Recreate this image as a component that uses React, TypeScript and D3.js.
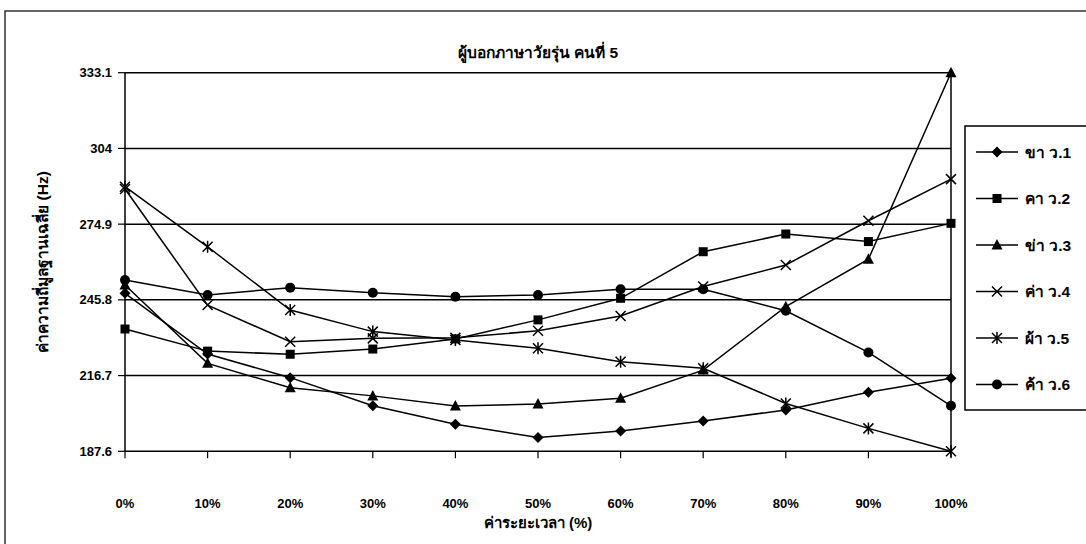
import React from "react";
import * as d3 from "d3";

const categories = ["0%", "10%", "20%", "30%", "40%", "50%", "60%", "70%", "80%", "90%", "100%"];
const yTicks = [187.6, 216.7, 245.8, 274.9, 304, 333.1];

const seriesNames = ["ขา ว.1", "คา ว.2", "ข่า ว.3", "ค่า ว.4", "ผ้า ว.5", "ค้า ว.6"];
const markerKinds = ["diamond", "square", "triangle", "cross", "star", "circle"];

const khaa1 = [248.3, 225.0, 215.9, 205.1, 198.0, 192.9, 195.4, 199.2, 203.5, 210.3, 215.7];
const khaa2 = [234.6, 226.1, 224.9, 226.9, 230.8, 238.1, 246.4, 264.3, 271.1, 268.2, 275.2];
const khaa3 = [251.5, 221.4, 212.0, 208.9, 205.0, 205.8, 208.0, 218.8, 243.2, 261.4, 333.1];
const khaa4 = [288.4, 243.8, 229.7, 231.0, 231.2, 233.9, 239.6, 250.9, 259.2, 276.2, 292.2];
const phaa5 = [289.3, 266.2, 241.9, 233.6, 230.4, 227.2, 222.0, 219.5, 206.0, 196.4, 187.6];
const khaa6 = [253.4, 247.7, 250.5, 248.5, 247.0, 247.7, 249.9, 249.9, 241.6, 225.6, 205.1];

const seriesValues = [khaa1, khaa2, khaa3, khaa4, phaa5, khaa6];

const W = 1086;
const H = 544;
const plot = { left: 125, right: 951, top: 72.7, bottom: 451.3 };
const FONT = "'Liberation Sans', Arial, 'Noto Sans', sans-serif";

const x = d3
  .scalePoint<string>()
  .domain(categories)
  .range([plot.left, plot.right]);
const y = d3.scaleLinear().domain([187.6, 333.1]).range([plot.bottom, plot.top]);

function Marker({ kind, cx, cy }: { kind: string; cx: number; cy: number }) {
  const s = 5;
  switch (kind) {
    case "diamond":
      return (
        <path
          d={`M${cx},${cy - 5.5}L${cx + 5.5},${cy}L${cx},${cy + 5.5}L${cx - 5.5},${cy}Z`}
          fill="#000"
        />
      );
    case "square":
      return <rect x={cx - 4.5} y={cy - 4.5} width={9} height={9} fill="#000" />;
    case "triangle":
      return (
        <path
          d={`M${cx},${cy - 6}L${cx + 5.5},${cy + 4.5}L${cx - 5.5},${cy + 4.5}Z`}
          fill="#000"
        />
      );
    case "cross":
      return (
        <path
          d={`M${cx - s},${cy - s}L${cx + s},${cy + s}M${cx - s},${cy + s}L${cx + s},${cy - s}`}
          stroke="#000"
          strokeWidth={1.5}
          fill="none"
        />
      );
    case "star":
      return (
        <path
          d={`M${cx - s},${cy - s}L${cx + s},${cy + s}M${cx - s},${cy + s}L${cx + s},${cy - s}M${cx},${cy - s - 1}L${cx},${cy + s + 1}`}
          stroke="#000"
          strokeWidth={1.5}
          fill="none"
        />
      );
    default:
      return <circle cx={cx} cy={cy} r={5} fill="#000" />;
  }
}

export default function App() {
  const line = d3
    .line<number>()
    .x((_, i) => x(categories[i]) as number)
    .y((d) => y(d));

  const legendX = 965;
  const legendY = 126;

  return (
    <svg
      width={W}
      height={H}
      style={{ position: "absolute", left: 0, top: 0, background: "#fff" }}
      fontFamily={FONT}
    >
      {/* chart frame */}
      <rect x={5} y={11} width={1100} height={560} fill="none" stroke="#333" strokeWidth={1.5} />

      {/* title */}
      <text x={(plot.left + plot.right) / 2} y={58} textAnchor="middle" fontSize={15.5} fontWeight="bold">
        ผู้บอกภาษาวัยรุ่น คนที่ 5
      </text>

      {/* horizontal gridlines */}
      {yTicks.map((t) => (
        <line key={"g" + t} x1={plot.left} x2={plot.right} y1={y(t)} y2={y(t)} stroke="#000" strokeWidth={1.5} />
      ))}

      {/* plot border */}
      <line x1={plot.left} x2={plot.left} y1={plot.top} y2={plot.bottom} stroke="#000" strokeWidth={1.5} />
      <line x1={plot.right} x2={plot.right} y1={plot.top} y2={plot.bottom} stroke="#000" strokeWidth={1.5} />

      {/* y axis ticks and labels */}
      {yTicks.map((t) => (
        <g key={"y" + t}>
          <line x1={plot.left - 7} x2={plot.left} y1={y(t)} y2={y(t)} stroke="#000" strokeWidth={1.2} />
          <text x={plot.left - 13} y={y(t) + 4.5} textAnchor="end" fontSize={13} fontWeight="bold">
            {t}
          </text>
        </g>
      ))}

      {/* x axis ticks and labels */}
      {categories.map((c) => (
        <g key={"x" + c}>
          <line
            x1={x(c) as number}
            x2={x(c) as number}
            y1={plot.bottom}
            y2={plot.bottom + 7}
            stroke="#000"
            strokeWidth={1.2}
          />
          <text x={x(c) as number} y={508} textAnchor="middle" fontSize={13} fontWeight="bold">
            {c}
          </text>
        </g>
      ))}

      {/* axis titles */}
      <text x={(plot.left + plot.right) / 2} y={528} textAnchor="middle" fontSize={15} fontWeight="bold">
        ค่าระยะเวลา (%)
      </text>
      <text
        transform={`translate(48, ${(plot.top + plot.bottom) / 2}) rotate(-90)`}
        textAnchor="middle"
        fontSize={15.5}
        fontWeight="bold"
      >
        ค่าความถี่มูลฐานเฉลี่ย (Hz)
      </text>

      {/* series */}
      {seriesValues.map((vals, si) => (
        <g key={"s" + si}>
          <path d={line(vals) || ""} fill="none" stroke="#000" strokeWidth={1.5} />
          {vals.map((v, i) => (
            <Marker key={i} kind={markerKinds[si]} cx={x(categories[i]) as number} cy={y(v)} />
          ))}
        </g>
      ))}

      {/* legend */}
      <rect x={legendX} y={legendY} width={140} height={284} fill="#fff" stroke="#000" strokeWidth={1.5} />
      {seriesNames.map((name, i) => {
        const ly = legendY + 26 + i * 46.5;
        return (
          <g key={"l" + i}>
            <line x1={legendX + 11} x2={legendX + 53} y1={ly} y2={ly} stroke="#000" strokeWidth={1.5} />
            <Marker kind={markerKinds[i]} cx={legendX + 32} cy={ly} />
            <text x={legendX + 60} y={ly + 5.5} fontSize={15.5} fontWeight="bold">
              {name}
            </text>
          </g>
        );
      })}
    </svg>
  );
}
